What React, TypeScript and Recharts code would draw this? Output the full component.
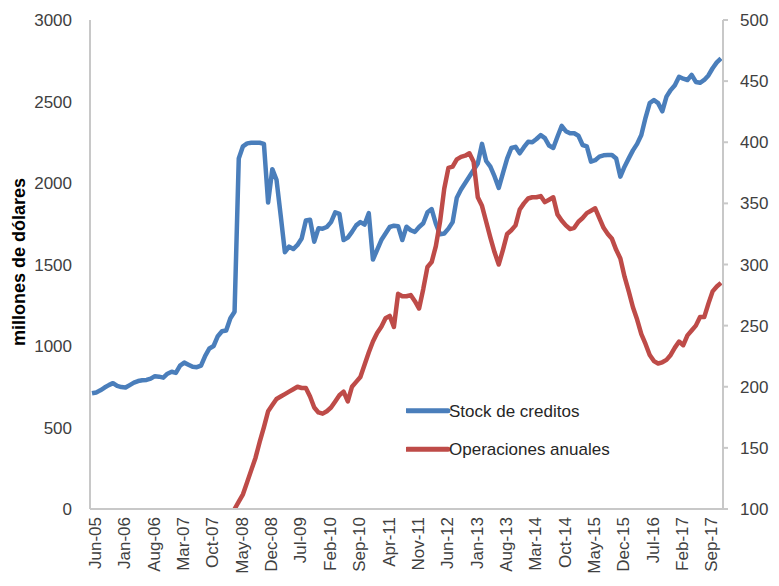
import React from 'react';
import { LineChart, Line, XAxis, YAxis, Legend } from 'recharts';

// Monthly categories, Jun-05 .. Dec-17
const MONTH_ABBR = ['Jan', 'Feb', 'Mar', 'Apr', 'May', 'Jun', 'Jul', 'Aug', 'Sep', 'Oct', 'Nov', 'Dec'];
const START_YEAR = 2005;
const START_MONTH = 5; // June (0-based)

// Stock de creditos (millones de dólares, left axis)
const stockCreditos = [
  710, 715, 728, 745, 760, 772, 755, 748, 745, 760,
  775, 785, 790, 792, 800, 815, 812, 806, 830, 842,
  835, 880, 898, 885, 872, 870, 880, 940, 985, 1000,
  1060, 1090, 1095, 1170, 1210, 2150, 2225, 2243, 2247, 2247,
  2247, 2240, 1880, 2085, 2020, 1800, 1575, 1610, 1595, 1620,
  1660, 1770, 1775, 1640, 1722, 1720, 1730, 1760, 1820, 1810,
  1650, 1665, 1700, 1740, 1760, 1745, 1815, 1530, 1590, 1650,
  1690, 1730, 1738, 1735, 1650, 1732, 1710, 1700, 1730, 1753,
  1820, 1840, 1750, 1685, 1690, 1720, 1760, 1910, 1960, 2000,
  2040, 2080, 2120, 2240, 2135, 2100, 2040, 1970, 2060, 2150,
  2215, 2222, 2182, 2220, 2253, 2250, 2270, 2294, 2275, 2230,
  2215, 2284, 2350, 2318, 2305, 2305, 2290, 2233, 2225, 2131,
  2140, 2162, 2170, 2172, 2172, 2150, 2039, 2100, 2151, 2200,
  2240, 2294, 2400, 2490, 2509, 2490, 2440, 2530, 2570, 2600,
  2652, 2640, 2632, 2663, 2620, 2615, 2632, 2660, 2704, 2740,
  2765,
];

// Operaciones anuales (right axis), series begins in 2008
const operacionesAnuales: (number | null)[] = [
  null, null, null, null, null, null, null, null, null, null,
  null, null, null, null, null, null, null, null, null, null,
  null, null, null, null, null, null, null, null, null, null,
  null, null, null, null, 100, 106, 112, 122, 132, 142,
  155, 167, 180, 185, 190, 192, 194, 196, 198, 200,
  199, 199, 192, 183, 179, 178, 180, 183, 188, 193,
  196, 188, 200, 204, 208, 218, 228, 237, 244, 249,
  256, 258, 249, 276, 274, 274, 275, 270, 264, 280,
  298, 302, 315, 335, 362, 379, 380, 386, 388, 389,
  391, 384, 355, 348, 335, 322, 310, 300, 312, 325,
  328, 332, 345, 350, 354, 355, 355, 356, 351, 353,
  355, 341, 336, 332, 329, 330, 335, 338, 342, 344,
  346, 338, 330, 325, 321, 312, 305, 290, 278, 265,
  255, 243, 235, 226, 221, 219, 220, 222, 226, 232,
  237, 234, 242, 246, 250, 257, 257, 268, 278, 282,
  285,
];

const seriesNames = ['Stock de creditos', 'Operaciones anuales'];
const leftTicks = [0, 500, 1000, 1500, 2000, 2500, 3000];
const rightTicks = [100, 150, 200, 250, 300, 350, 400, 450, 500];

const monthLabel = (i: number) => {
  const m = START_MONTH + i;
  const year = START_YEAR + Math.floor(m / 12);
  return `${MONTH_ABBR[m % 12]}-${String(year % 100).padStart(2, '0')}`;
};

const data = stockCreditos.map((v, i) => ({
  month: monthLabel(i),
  stock: v,
  operaciones: operacionesAnuales[i],
}));

const FONT = '"Liberation Sans", Arial, sans-serif';
const TEXT = '#404040';
const AXIS = '#c8c8c8';
const BLUE = '#4A7EBB';
const RED = '#BE4B48';

const MonthTick = (props: any) => {
  const { x, y, payload } = props;
  return (
    <text
      x={x}
      y={y}
      dy={9}
      transform={`rotate(-90, ${x}, ${y})`}
      textAnchor="end"
      fontFamily={FONT}
      fontSize={17}
      fill={TEXT}
    >
      {payload.value}
    </text>
  );
};

const LegendBox = (props: any) => {
  const items = [...(props.payload || [])].sort(
    (a: any, b: any) => seriesNames.indexOf(a.value) - seriesNames.indexOf(b.value)
  );
  return (
    <svg width={260} height={64} style={{ display: 'block' }}>
      {items.map((it: any, k: number) => {
        const cy = 12.7 + k * 38.6;
        return (
          <g key={it.value}>
            <line x1={1} x2={42} y1={cy} y2={cy} stroke={it.color} strokeWidth={5} strokeLinecap="round" />
            <text x={43} y={cy + 6} fontFamily={FONT} fontSize={17} fill="#262626">
              {it.value}
            </text>
          </g>
        );
      })}
    </svg>
  );
};

const AxisTitle = () => (
  <text
    x={19}
    y={262}
    transform="rotate(-90, 19, 262)"
    textAnchor="middle"
    dominantBaseline="central"
    fontFamily={FONT}
    fontSize={18}
    fontWeight="bold"
    fill="#000"
  >
    millones de dólares
  </text>
);

export default function App() {
  return (
    <div style={{ position: 'absolute', left: 0, top: 0, background: '#fff' }}>
      <LineChart width={779} height={586} data={data} margin={{ top: 20, right: 0, bottom: 0, left: 0 }}>
        <XAxis
          dataKey="month"
          interval={6}
          height={77}
          padding={{ left: 2, right: 2 }}
          tickLine={false}
          axisLine={{ stroke: AXIS, strokeWidth: 2 }}
          tick={<MonthTick />}
          tickMargin={2}
          tickSize={6}
        />
        <YAxis
          yAxisId="left"
          width={90}
          domain={[0, 3000]}
          ticks={leftTicks}
          tickLine={false}
          tickSize={6}
          tickMargin={12}
          axisLine={{ stroke: AXIS, strokeWidth: 2 }}
          tick={{ fontFamily: FONT, fontSize: 17, fill: TEXT }}
          label={<AxisTitle />}
        />
        <YAxis
          yAxisId="right"
          orientation="right"
          width={56}
          domain={[100, 500]}
          ticks={rightTicks}
          tickLine={{ stroke: AXIS, strokeWidth: 2 }}
          tickSize={5}
          tickMargin={12}
          axisLine={{ stroke: AXIS, strokeWidth: 2 }}
          tick={{ fontFamily: FONT, fontSize: 17, fill: TEXT, textAnchor: 'start' }}
        />
        <Line
          yAxisId="left"
          type="linear"
          dataKey="stock"
          name={seriesNames[0]}
          stroke={BLUE}
          strokeWidth={4.5}
          strokeLinejoin="round"
          dot={false}
          activeDot={false}
          isAnimationActive={false}
        />
        <Line
          yAxisId="right"
          type="linear"
          dataKey="operaciones"
          name={seriesNames[1]}
          stroke={RED}
          strokeWidth={4.5}
          strokeLinejoin="round"
          dot={false}
          activeDot={false}
          isAnimationActive={false}
        />
        <Legend
          layout="vertical"
          align="center"
          verticalAlign="middle"
          content={<LegendBox />}
          wrapperStyle={{ left: 406, top: 398, width: 260, height: 64 }}
        />
      </LineChart>
    </div>
  );
}
